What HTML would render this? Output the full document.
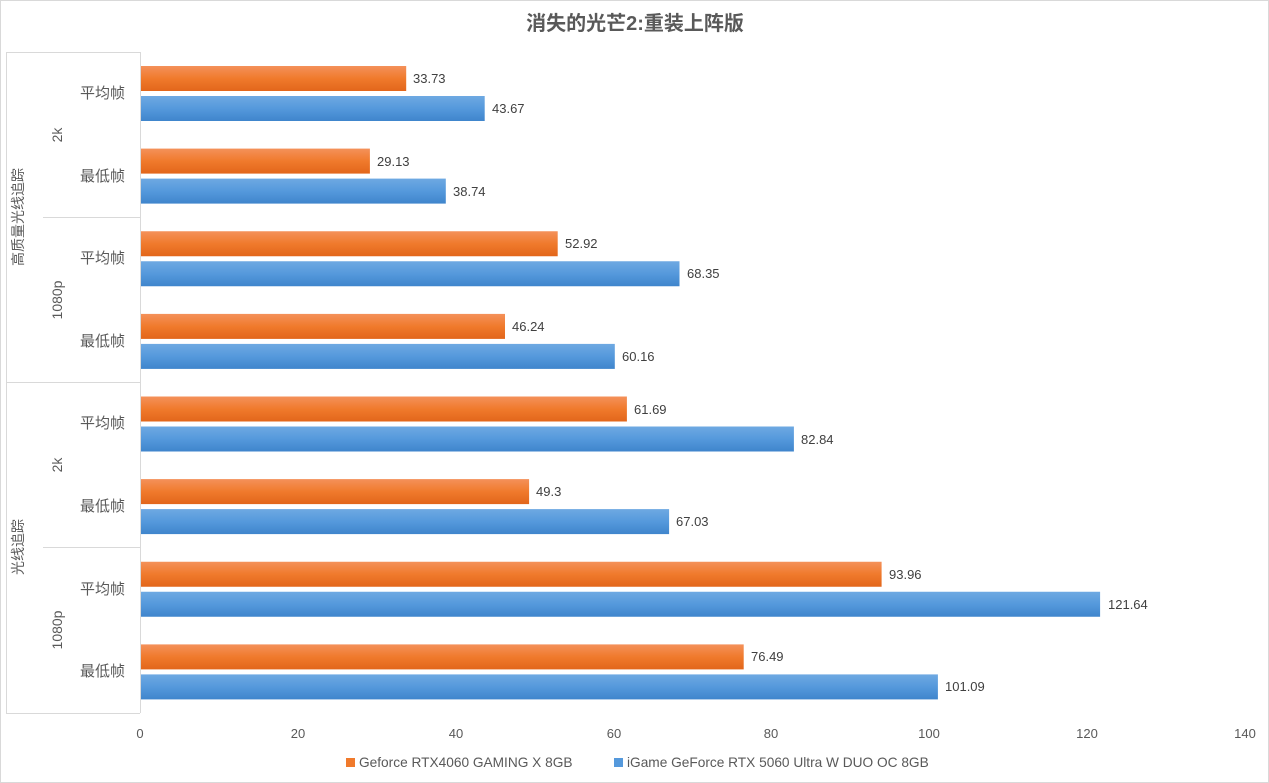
<!DOCTYPE html>
<html><head><meta charset="utf-8"><style>
body{margin:0;background:#fff}
svg{display:block;font-family:"Liberation Sans","Noto Sans CJK SC",sans-serif}
</style></head><body>
<svg width="1269" height="783" viewBox="0 0 1269 783">
<defs>
<linearGradient id="o" x1="0" y1="0" x2="0" y2="1"><stop offset="0" stop-color="#f4915a"/><stop offset="0.5" stop-color="#f07a2c"/><stop offset="1" stop-color="#e2661b"/></linearGradient>
<linearGradient id="b" x1="0" y1="0" x2="0" y2="1"><stop offset="0" stop-color="#6ea9e2"/><stop offset="0.5" stop-color="#5599dc"/><stop offset="1" stop-color="#3f85cc"/></linearGradient>
</defs>
<rect x="0.5" y="0.5" width="1268" height="782" fill="#fff" stroke="#d9d9d9"/>
<text x="635" y="30" text-anchor="middle" font-size="20" font-weight="bold" fill="#595959">消失的光芒2:重装上阵版</text>
<g stroke="#d9d9d9" stroke-width="1" fill="none">
<line x1="6.5" y1="52" x2="6.5" y2="713"/>
<line x1="140.5" y1="52" x2="140.5" y2="713"/>
<line x1="6" y1="52.5" x2="140" y2="52.5"/>
<line x1="43" y1="217.5" x2="140" y2="217.5"/>
<line x1="6" y1="382.5" x2="140" y2="382.5"/>
<line x1="43" y1="547.5" x2="140" y2="547.5"/>
<line x1="6" y1="713.5" x2="140" y2="713.5"/>
</g>
<g fill="url(#o)">
<rect x="141" y="66" width="265.2" height="25"/>
<rect x="141" y="148.6" width="228.9" height="25"/>
<rect x="141" y="231.25" width="416.7" height="25"/>
<rect x="141" y="313.9" width="364" height="25"/>
<rect x="141" y="396.5" width="485.9" height="25"/>
<rect x="141" y="479.1" width="388.1" height="25"/>
<rect x="141" y="561.75" width="740.6" height="25"/>
<rect x="141" y="644.4" width="602.7" height="25"/>
</g>
<g fill="url(#b)">
<rect x="141" y="96" width="343.7" height="25"/>
<rect x="141" y="178.6" width="304.8" height="25"/>
<rect x="141" y="261.25" width="538.5" height="25"/>
<rect x="141" y="343.9" width="473.8" height="25"/>
<rect x="141" y="426.5" width="652.9" height="25"/>
<rect x="141" y="509.1" width="528.1" height="25"/>
<rect x="141" y="591.75" width="959.1" height="25"/>
<rect x="141" y="674.4" width="796.9" height="25"/>
</g>
<g font-size="13" fill="#404040">
<text x="413" y="83">33.73</text><text x="492" y="113">43.67</text>
<text x="377" y="166">29.13</text><text x="453" y="196">38.74</text>
<text x="565" y="248">52.92</text><text x="687" y="278">68.35</text>
<text x="512" y="331">46.24</text><text x="622" y="361">60.16</text>
<text x="634" y="414">61.69</text><text x="801" y="444">82.84</text>
<text x="536" y="496">49.3</text><text x="676" y="526">67.03</text>
<text x="889" y="579">93.96</text><text x="1108" y="609">121.64</text>
<text x="751" y="661">76.49</text><text x="945" y="691">101.09</text>
</g>
<g font-size="15" fill="#595959" text-anchor="end">
<text x="125" y="98">平均帧</text><text x="125" y="181">最低帧</text>
<text x="125" y="263">平均帧</text><text x="125" y="346">最低帧</text>
<text x="125" y="428">平均帧</text><text x="125" y="511">最低帧</text>
<text x="125" y="594">平均帧</text><text x="125" y="676">最低帧</text>
</g>
<g font-size="14" fill="#595959" text-anchor="middle">
<text transform="translate(62,135) rotate(-90)">2k</text>
<text transform="translate(62,300) rotate(-90)">1080p</text>
<text transform="translate(62,465) rotate(-90)">2k</text>
<text transform="translate(62,630) rotate(-90)">1080p</text>
<text transform="translate(23,217) rotate(-90)">高质量光线追踪</text>
<text transform="translate(23,547) rotate(-90)">光线追踪</text>
</g>
<g font-size="13" fill="#595959" text-anchor="middle">
<text x="140" y="738">0</text><text x="298" y="738">20</text><text x="456" y="738">40</text>
<text x="614" y="738">60</text><text x="771" y="738">80</text><text x="929" y="738">100</text>
<text x="1087" y="738">120</text><text x="1245" y="738">140</text>
</g>
<rect x="346" y="758" width="9" height="9" fill="#f07a2c"/>
<text x="359" y="767" font-size="13.7" fill="#595959">Geforce RTX4060 GAMING X 8GB</text>
<rect x="614" y="758" width="9" height="9" fill="#5599dc"/>
<text x="627" y="767" font-size="13.7" fill="#595959">iGame GeForce RTX 5060 Ultra W DUO OC 8GB</text>
</svg>
</body></html>
